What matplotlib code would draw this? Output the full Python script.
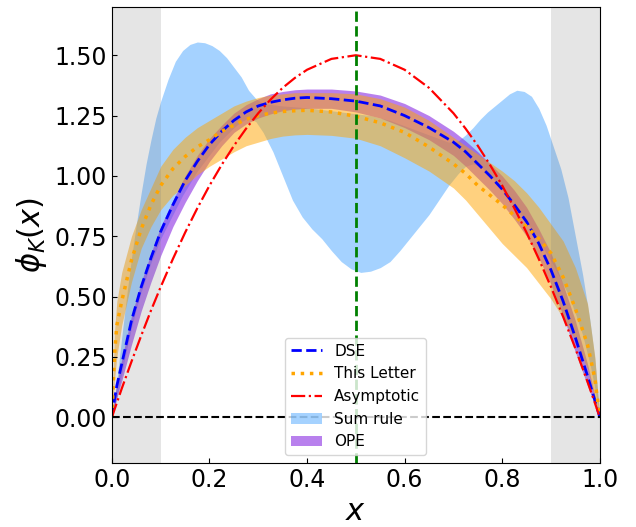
import matplotlib
matplotlib.use("Agg")
import matplotlib.pyplot as plt
import numpy as np

# common x grid for the lines and the narrow bands
x = [0, 0.005, 0.01, 0.02, 0.04, 0.06, 0.08, 0.1, 0.125, 0.15, 0.175, 0.2, 0.225,
     0.25, 0.275, 0.3, 0.325, 0.35, 0.375, 0.4, 0.45, 0.5, 0.55, 0.6, 0.65, 0.7,
     0.725, 0.75, 0.775, 0.8, 0.825, 0.85, 0.875, 0.9, 0.925, 0.95, 0.975, 0.99, 1.0]

asymptotic = [0, 0.030, 0.059, 0.118, 0.230, 0.338, 0.442, 0.54, 0.656, 0.765, 0.866,
              0.96, 1.046, 1.125, 1.196, 1.26, 1.316, 1.365, 1.406, 1.44, 1.485, 1.5,
              1.485, 1.44, 1.365, 1.26, 1.196, 1.125, 1.046, 0.96, 0.866, 0.765, 0.656,
              0.54, 0.416, 0.285, 0.146, 0.059, 0]

dse = [0, 0.07, 0.13, 0.22, 0.40, 0.54, 0.66, 0.77, 0.88, 0.98, 1.06, 1.13, 1.185,
       1.23, 1.265, 1.29, 1.305, 1.315, 1.322, 1.325, 1.32, 1.31, 1.29, 1.25, 1.20,
       1.14, 1.10, 1.05, 1.0, 0.945, 0.88, 0.81, 0.72, 0.61, 0.48, 0.33, 0.17, 0.07, 0]

this_letter = [0, 0.25, 0.38, 0.48, 0.65, 0.78, 0.88, 0.96, 1.03, 1.08, 1.12, 1.15,
               1.185, 1.21, 1.235, 1.25, 1.26, 1.267, 1.27, 1.272, 1.265, 1.247, 1.22,
               1.18, 1.12, 1.05, 1.01, 0.96, 0.92, 0.88, 0.835, 0.79, 0.74, 0.68, 0.58,
               0.45, 0.30, 0.16, 0]

letter_hi = [0, 0.35, 0.48, 0.60, 0.75, 0.86, 0.95, 1.04, 1.11, 1.16, 1.20, 1.23, 1.26,
             1.29, 1.31, 1.325, 1.335, 1.34, 1.345, 1.345, 1.345, 1.34, 1.32, 1.285,
             1.23, 1.16, 1.125, 1.09, 1.055, 1.02, 0.98, 0.93, 0.87, 0.80, 0.73, 0.62,
             0.47, 0.25, 0]
letter_lo = [0, 0.15, 0.25, 0.38, 0.56, 0.70, 0.79, 0.86, 0.92, 0.96, 1.005, 1.04, 1.07,
             1.10, 1.125, 1.14, 1.155, 1.165, 1.17, 1.172, 1.168, 1.156, 1.125, 1.075,
             1.02, 0.95, 0.90, 0.84, 0.78, 0.72, 0.67, 0.62, 0.555, 0.49, 0.41, 0.32,
             0.20, 0.08, 0]

ope_hi = [0, 0.08, 0.14, 0.24, 0.42, 0.56, 0.68, 0.79, 0.90, 1.0, 1.085, 1.155, 1.21,
          1.26, 1.295, 1.32, 1.34, 1.35, 1.357, 1.36, 1.36, 1.352, 1.335, 1.30, 1.25,
          1.185, 1.145, 1.10, 1.05, 1.0, 0.94, 0.87, 0.78, 0.68, 0.55, 0.40, 0.22, 0.09, 0]
ope_lo = [0, 0.04, 0.08, 0.15, 0.30, 0.44, 0.56, 0.67, 0.79, 0.89, 0.98, 1.06, 1.125,
          1.18, 1.215, 1.24, 1.257, 1.27, 1.277, 1.28, 1.28, 1.265, 1.24, 1.20, 1.15,
          1.085, 1.04, 0.99, 0.94, 0.885, 0.82, 0.75, 0.66, 0.55, 0.42, 0.27, 0.13, 0.05, 0]

# sum rule band has its own, denser grid
sum_x = [0, 0.01, 0.02, 0.03, 0.04, 0.05, 0.06, 0.07, 0.08, 0.09, 0.1, 0.115, 0.13,
         0.145, 0.16, 0.175, 0.19, 0.205, 0.22, 0.235, 0.25, 0.265, 0.28, 0.295, 0.31,
         0.33, 0.35, 0.37, 0.39, 0.41, 0.43, 0.45, 0.47, 0.49, 0.51, 0.53, 0.55, 0.57,
         0.59, 0.61, 0.63, 0.65, 0.67, 0.69, 0.71, 0.725, 0.74, 0.755, 0.77, 0.785, 0.8,
         0.815, 0.83, 0.845, 0.86, 0.875, 0.89, 0.905, 0.92, 0.935, 0.95, 0.965, 0.98,
         0.99, 1.0]
sum_hi = [0, 0.15, 0.33, 0.50, 0.66, 0.80, 0.93, 1.05, 1.15, 1.24, 1.31, 1.40, 1.475,
          1.52, 1.545, 1.555, 1.552, 1.54, 1.52, 1.49, 1.45, 1.41, 1.355, 1.32, 1.30,
          1.295, 1.29, 1.287, 1.284, 1.28, 1.275, 1.27, 1.265, 1.26, 1.255, 1.25, 1.24,
          1.23, 1.215, 1.20, 1.185, 1.17, 1.155, 1.14, 1.145, 1.17, 1.20, 1.235, 1.265,
          1.29, 1.315, 1.34, 1.355, 1.35, 1.33, 1.28, 1.21, 1.12, 1.03, 0.91, 0.75, 0.59,
          0.40, 0.24, 0]
sum_lo = [0, 0.08, 0.18, 0.28, 0.37, 0.45, 0.52, 0.58, 0.64, 0.69, 0.74, 0.80, 0.86,
          0.92, 0.97, 1.02, 1.06, 1.10, 1.14, 1.17, 1.20, 1.225, 1.24, 1.225, 1.18, 1.10,
          1.00, 0.90, 0.83, 0.78, 0.74, 0.69, 0.645, 0.615, 0.60, 0.605, 0.62, 0.645,
          0.69, 0.74, 0.79, 0.84, 0.90, 0.96, 1.01, 1.04, 1.05, 1.04, 1.01, 0.98, 0.94,
          0.90, 0.86, 0.82, 0.78, 0.73, 0.68, 0.63, 0.57, 0.51, 0.43, 0.34, 0.22, 0.12, 0]

fig = plt.figure(figsize=(6.36, 5.27), dpi=100)
ax = fig.add_axes([0.176, 0.1214, 0.767, 0.8653])

h_sum = ax.fill_between(sum_x, sum_lo, sum_hi, color='dodgerblue', alpha=0.4, lw=0,
                        label='Sum rule')
h_ope = ax.fill_between(x, ope_lo, ope_hi, color='blueviolet', alpha=0.6, lw=0, label='OPE')
ax.fill_between(x, letter_lo, letter_hi, color='orange', alpha=0.5, lw=0)

ax.axvspan(0, 0.1, color='gray', alpha=0.2, lw=0, zorder=1.5)
ax.axvspan(0.9, 1.0, color='gray', alpha=0.2, lw=0, zorder=1.5)

h_dse, = ax.plot(x, dse, color='blue', ls='--', lw=2, label='DSE')
h_let, = ax.plot(x, this_letter, color='orange', ls=':', lw=2.5, label='This Letter')
h_asy, = ax.plot(x, asymptotic, color='red', ls='-.', lw=1.6, label='Asymptotic')

ax.axvline(0.5, color='green', ls='--', lw=2)
ax.axhline(0, color='black', ls='--', lw=1.5)

ax.set_xlim(0, 1)
ax.set_ylim(-0.19, 1.70)
ax.set_xticks(np.arange(0, 1.01, 0.2))
ax.set_yticks(np.arange(0, 1.51, 0.25))
ax.tick_params(direction='in', labelsize=17)
ax.set_xlabel(r'$x$', fontsize=22)
ax.set_ylabel(r'$\phi_K(x)$', fontsize=22)

ax.legend(handles=[h_dse, h_let, h_asy, h_sum, h_ope], loc='lower center', fontsize=11)

fig.savefig('out.png', dpi=100)
